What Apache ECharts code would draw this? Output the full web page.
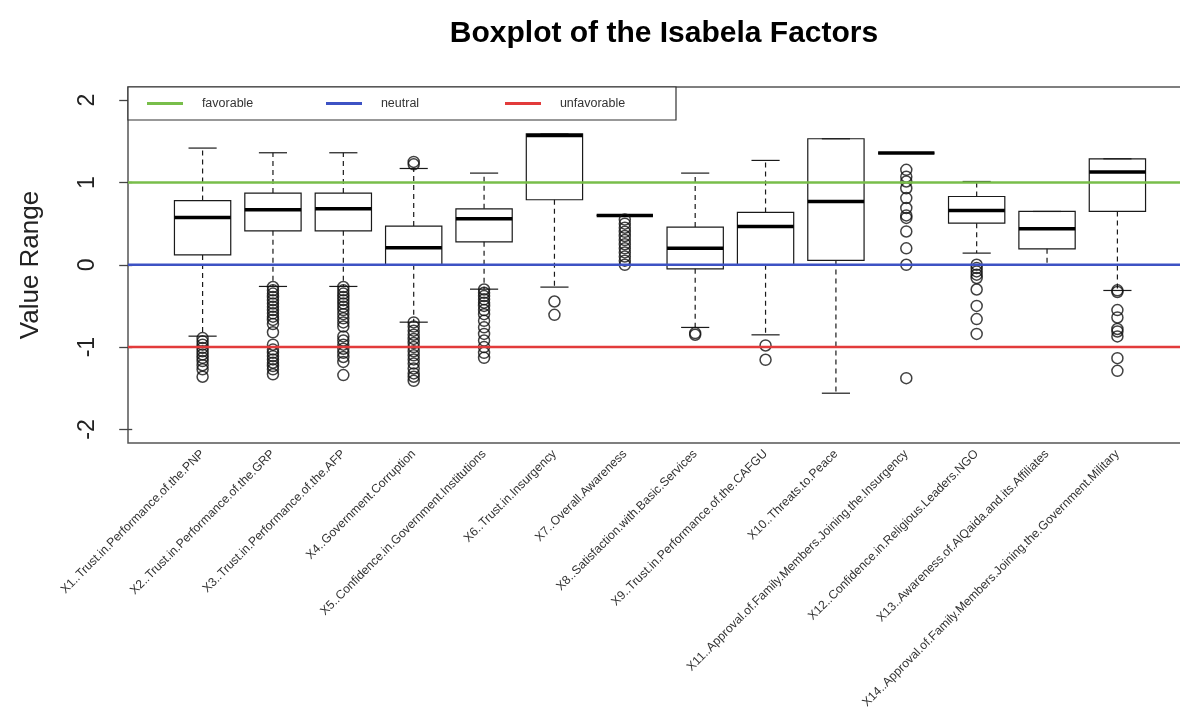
<!DOCTYPE html>
<html>
<head>
<meta charset="utf-8">
<script src="https://cdn.jsdelivr.net/npm/echarts@6/dist/echarts.min.js"></script>
<style>
html,body{margin:0;padding:0;background:#fff;}
#chart{width:1180px;height:713px;}
</style>
</head>
<body>
<div id="chart"></div>
<script>
const categories = [
  "X1..Trust.in.Performance.of.the.PNP",
  "X2..Trust.in.Performance.of.the.GRP",
  "X3..Trust.in.Performance.of.the.AFP",
  "X4..Government.Corruption",
  "X5..Confidence.in.Government.Institutions",
  "X6..Trust.in.Insurgency",
  "X7..Overall.Awareness",
  "X8..Satisfaction.with.Basic.Services",
  "X9..Trust.in.Performance.of.the.CAFGU",
  "X10..Threats.to.Peace",
  "X11..Approval.of.Family.Members.Joining.the.Insurgency",
  "X12..Confidence.in.Religious.Leaders.NGO",
  "X13..Awareness.of.AlQaida.and.its.Affiliates",
  "X14..Approval.of.Family.Members.Joining.the.Government.Military"
];
const whiskerLow  = [-0.867, -0.263, -0.263, -0.697, -0.296, -0.271, 0.6, -0.761, -0.851, -1.56, 1.357, 0.142, 0.0, -0.312];
const lowerQuart  = [0.12, 0.413, 0.413, 0.0, 0.279, 0.79, 0.6, -0.049, 0.0, 0.053, 1.357, 0.506, 0.194, 0.648];
const medianVals  = [0.575, 0.668, 0.68, 0.207, 0.559, 1.571, 0.6, 0.2, 0.466, 0.77, 1.357, 0.66, 0.437, 1.126];
const upperQuart  = [0.78, 0.871, 0.871, 0.47, 0.68, 1.59, 0.6, 0.458, 0.636, 1.531, 1.357, 0.83, 0.648, 1.288];
const whiskerHigh = [1.418, 1.361, 1.361, 1.17, 1.114, 1.59, 0.6, 1.114, 1.268, 1.531, 1.357, 1.012, 0.648, 1.288];
const outliers = [
  [-0.89, -0.93, -0.97, -1.01, -1.05, -1.09, -1.13, -1.17, -1.22, -1.27, -1.36],
  [-0.27, -0.31, -0.35, -0.39, -0.43, -0.47, -0.51, -0.55, -0.59, -0.63, -0.67, -0.72, -0.82, -0.97, -1.03, -1.07, -1.11, -1.15, -1.19, -1.23, -1.27, -1.33],
  [-0.27, -0.31, -0.35, -0.39, -0.43, -0.47, -0.51, -0.55, -0.6, -0.65, -0.7, -0.75, -0.87, -0.92, -0.97, -1.02, -1.07, -1.12, -1.18, -1.34],
  [1.22, 1.25, -0.70, -0.75, -0.80, -0.85, -0.90, -0.95, -1.00, -1.05, -1.10, -1.15, -1.20, -1.26, -1.32, -1.36, -1.41],
  [-0.30, -0.34, -0.38, -0.42, -0.46, -0.50, -0.55, -0.60, -0.68, -0.76, -0.84, -0.92, -1.0, -1.07, -1.13],
  [-0.446, -0.608],
  [0.0, 0.05, 0.1, 0.15, 0.2, 0.25, 0.3, 0.35, 0.4, 0.45, 0.5, 0.55],
  [-0.83, -0.85],
  [-0.98, -1.154],
  [],
  [1.154, 1.07, 1.012, 0.93, 0.81, 0.69, 0.6, 0.57, 0.405, 0.2, 0.0, -1.377],
  [0.0, -0.04, -0.08, -0.12, -0.16, -0.30, -0.50, -0.66, -0.84],
  [],
  [-0.31, -0.33, -0.55, -0.64, -0.78, -0.81, -0.87, -1.134, -1.288]
];
const yTicks = [-2, -1, 0, 1, 2];
const refNames = ["favorable", "neutral", "unfavorable"];
const refLevels = [1, 0, -1];
const refColors = ["#78be4a", "#3d52c4", "#e23b3b"];

const positions = categories.map((c, i) => i + 1);
const X_MIN = -0.06, X_MAX = 15.06;

const boxData = categories.map((c, i) => [positions[i], whiskerLow[i], lowerQuart[i], medianVals[i], upperQuart[i], whiskerHigh[i]]);
const outlierData = [];
outliers.forEach((arr, i) => arr.forEach(v => outlierData.push([positions[i], v])));

function renderBox(params, api) {
  const x = api.value(0);
  const pLo = api.coord([x, api.value(1)]);
  const pA = api.coord([x, api.value(2)]);
  const pM = api.coord([x, api.value(3)]);
  const pB = api.coord([x, api.value(4)]);
  const pHi = api.coord([x, api.value(5)]);
  const unit = api.size([1, 0])[0];
  const half = unit * 0.4, cap = unit * 0.2;
  const cx = pLo[0];
  const solid = { stroke: '#1a1a1a', lineWidth: 1.2 };
  const dashed = { stroke: '#1a1a1a', lineWidth: 1.2, lineDash: [5, 4] };
  return {
    type: 'group',
    children: [
      { type: 'line', shape: { x1: cx, y1: pB[1], x2: cx, y2: pHi[1] }, style: dashed },
      { type: 'line', shape: { x1: cx, y1: pA[1], x2: cx, y2: pLo[1] }, style: dashed },
      { type: 'line', shape: { x1: cx - cap, y1: pHi[1], x2: cx + cap, y2: pHi[1] }, style: solid },
      { type: 'line', shape: { x1: cx - cap, y1: pLo[1], x2: cx + cap, y2: pLo[1] }, style: solid },
      { type: 'rect', shape: { x: cx - half, y: pB[1], width: 2 * half, height: pA[1] - pB[1] },
        style: { stroke: '#1a1a1a', lineWidth: 1.2, fill: 'rgba(0,0,0,0)' } },
      { type: 'line', shape: { x1: cx - half, y1: pM[1], x2: cx + half, y2: pM[1] }, style: { stroke: '#000', lineWidth: 3.5 } }
    ]
  };
}

const FONT = "'Liberation Sans', Arial, Helvetica, sans-serif";
const chart = echarts.init(document.getElementById('chart'), null, { renderer: 'canvas' });

const refSeries = refNames.map((n, k) => ({
  name: n,
  type: 'line',
  data: [[X_MIN, refLevels[k]], [X_MAX, refLevels[k]]],
  symbol: 'none',
  color: refColors[k],
  lineStyle: { color: refColors[k], width: 2.5 },
  z: 5,
  silent: true
}));

chart.setOption({
  animation: false,
  backgroundColor: '#ffffff',
  title: {
    text: 'Boxplot of the Isabela Factors',
    left: 659,
    textAlign: 'center',
    top: 14,
    textStyle: { fontFamily: FONT, fontSize: 30, fontWeight: 'bold', color: '#000' }
  },
  legend: {
    data: refNames,
    left: 128,
    top: 87,
    orient: 'horizontal',
    icon: 'rect',
    itemWidth: 36,
    itemHeight: 3,
    itemGap: 13,
    padding: [9, 5, 9, 19],
    borderColor: '#333',
    borderWidth: 1.2,
    backgroundColor: '#fff',
    formatter: n => '    ' + n,
    textStyle: { fontFamily: FONT, fontSize: 12.5, color: '#333', width: 125, lineHeight: 15 },
    selectedMode: false
  },
  grid: {
    left: 128, top: 87, width: 1064, height: 356,
    containLabel: false,
    outerBoundsMode: 'none',
    show: true, borderColor: '#555', borderWidth: 1.5, backgroundColor: 'transparent'
  },
  xAxis: {
    type: 'value',
    min: X_MIN, max: X_MAX,
    axisLine: { show: false },
    splitLine: { show: false },
    axisTick: { show: false },
    axisLabel: {
      customValues: positions,
      formatter: v => categories[Math.round(v) - 1] || '',
      rotate: 45,
      margin: 9,
      fontFamily: FONT,
      fontSize: 12.2,
      color: '#333'
    }
  },
  yAxis: {
    type: 'value',
    min: -2.165, max: 2.16,
    name: 'Value Range',
    nameLocation: 'middle',
    nameRotate: 90,
    nameGap: 84,
    nameTextStyle: { fontFamily: FONT, fontSize: 26, color: '#222' },
    axisLine: { show: false },
    splitLine: { show: false },
    axisTick: { show: true, customValues: yTicks, length: 13, lineStyle: { color: '#444', width: 1.3 } },
    axisLabel: {
      customValues: yTicks,
      rotate: 90,
      margin: 29,
      fontFamily: FONT,
      fontSize: 23,
      color: '#222'
    }
  },
  series: [
    {
      type: 'custom',
      name: 'box',
      renderItem: renderBox,
      data: boxData,
      encode: { x: 0, y: [1, 2, 3, 4, 5] },
      z: 2,
      silent: true
    },
    {
      type: 'scatter',
      name: 'outliers',
      data: outlierData,
      symbol: 'circle',
      symbolSize: 11,
      itemStyle: { color: 'rgba(0,0,0,0)', borderColor: '#111', borderWidth: 1.5 },
      z: 3,
      silent: true
    }
  ].concat(refSeries)
});
</script>
</body>
</html>
